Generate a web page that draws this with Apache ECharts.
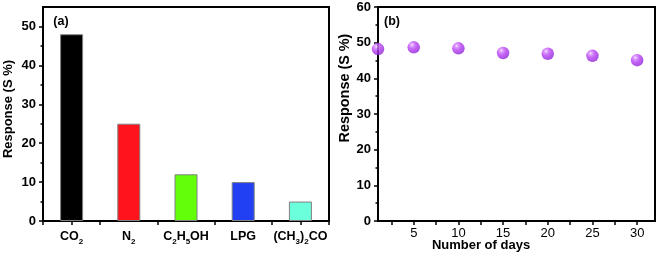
<!DOCTYPE html>
<html>
<head>
<meta charset="utf-8">
<script src="https://cdn.jsdelivr.net/npm/echarts@6/dist/echarts.min.js"></script>
<style>html,body{margin:0;padding:0;background:#fff}#c{width:661px;height:261px}</style>
</head>
<body>
<div id="c"></div>
<script>
// ---- data ----
var gasLabels = ['{n|CO}{s|2}', '{n|N}{s|2}', '{n|C}{s|2}{n|H}{s|5}{n|OH}', '{n|LPG}', '{n|(CH}{s|3}{n|)}{s|2}{n|CO}'];
var gasResponse = [48, 25, 12, 10, 5];
var gasColors = ['#000000', '#ff141e', '#62ff0a', '#2040f2', '#6cffdc'];
var days = [1, 5, 10, 15, 20, 25, 30];
var dayResponse = [48.2, 48.7, 48.4, 47.1, 46.9, 46.3, 45.1];
var yTicksA = [0, 10, 20, 30, 40, 50];
var yMinorA = [5, 15, 25, 35, 45];
var yTicksB = [0, 10, 20, 30, 40, 50, 60];
var yMinorB = [5, 15, 25, 35, 45, 55];
var xTicksB = [5, 10, 15, 20, 25, 30];
var xMinorB = [2.5, 7.5, 12.5, 17.5, 22.5, 27.5];

var FONT = 'Liberation Sans, Arial, sans-serif';
var lbl = {color: '#000', fontWeight: 'bold', fontSize: 13, fontFamily: FONT};
var line = {show: true, lineStyle: {color: '#000', width: 2}};
var tickStyle = {color: '#000', width: 1.5};

var chart = echarts.init(document.getElementById('c'));
chart.setOption({
  animation: false,
  grid: [
    {left: 43, right: 332, top: 7, bottom: 40, show: true, borderColor: '#000', borderWidth: 2, outerBoundsMode: 'none'},
    {left: 378, right: 6, top: 7, bottom: 40, show: true, borderColor: '#000', borderWidth: 2, outerBoundsMode: 'none'}
  ],
  xAxis: [
    {type: 'category', gridIndex: 0, position: 'bottom', data: gasLabels, axisLine: line,
     axisTick: {show: true, length: 4, lineStyle: tickStyle},
     axisLabel: Object.assign({}, lbl, {margin: 9, interval: 0,
       rich: {
         n: {fontSize: 12.5, fontWeight: 'bold', fontFamily: FONT, color: '#000', lineHeight: 14, verticalAlign: 'top'},
         s: {fontSize: 8, fontWeight: 'bold', fontFamily: FONT, color: '#000', lineHeight: 16, verticalAlign: 'bottom'}
       }})},
    {type: 'category', gridIndex: 0, position: 'bottom', data: gasLabels, axisLine: {show: false},
     axisTick: {show: true, alignWithLabel: true, length: 4, lineStyle: tickStyle},
     axisLabel: {show: false}},
    {type: 'value', gridIndex: 1, position: 'bottom', min: 1, max: 32, axisLine: line, splitLine: {show: false},
     axisTick: {show: true, length: 4, customValues: xTicksB.concat(xMinorB), lineStyle: tickStyle},
     axisLabel: Object.assign({}, lbl, {margin: 6, customValues: xTicksB, fontWeight: 'normal', fontSize: 13})}
  ],
  yAxis: [
    {type: 'value', gridIndex: 0, position: 'left', min: 0, max: 55, axisLine: line, splitLine: {show: false},
     axisTick: {show: true, length: 4, customValues: yTicksA, lineStyle: tickStyle},
     axisLabel: Object.assign({}, lbl, {margin: 7, customValues: yTicksA})},
    {type: 'value', gridIndex: 0, position: 'left', min: 0, max: 55, axisLine: {show: false}, splitLine: {show: false},
     axisTick: {show: true, length: 2.5, customValues: yMinorA, lineStyle: tickStyle},
     axisLabel: {show: false}},
    {type: 'value', gridIndex: 1, position: 'left', min: 0, max: 60, axisLine: line, splitLine: {show: false},
     axisTick: {show: true, length: 4, customValues: yTicksB, lineStyle: tickStyle},
     axisLabel: Object.assign({}, lbl, {margin: 7, customValues: yTicksB})},
    {type: 'value', gridIndex: 1, position: 'left', min: 0, max: 60, axisLine: {show: false}, splitLine: {show: false},
     axisTick: {show: true, length: 2.5, customValues: yMinorB, lineStyle: tickStyle},
     axisLabel: {show: false}}
  ],
  series: [
    {type: 'bar', xAxisIndex: 0, yAxisIndex: 0, barWidth: 23,
     data: gasResponse.map(function (v, i) {
       return {value: v, itemStyle: {color: gasColors[i], borderColor: '#808080', borderWidth: 1}};
     })},
    {type: 'scatter', xAxisIndex: 2, yAxisIndex: 2, symbolSize: 12.5,
     data: days.map(function (d, i) { return [d, dayResponse[i]]; }),
     itemStyle: {color: {type: 'radial', x: 0.36, y: 0.3, r: 0.75,
       colorStops: [{offset: 0, color: '#fbeeff'}, {offset: 0.15, color: '#d88cff'}, {offset: 0.45, color: '#b840f4'}, {offset: 1, color: '#8c20d6'}]}}}
  ],
  graphic: [
    {type: 'text', x: 8, y: 109, rotation: Math.PI / 2,
     style: {text: 'Response (S %)', font: 'bold 13px ' + FONT, fill: '#000', textAlign: 'center', textVerticalAlign: 'middle'}},
    {type: 'text', x: 345, y: 88, rotation: Math.PI / 2,
     style: {text: 'Response (S %)', font: 'bold 14.4px ' + FONT, fill: '#000', textAlign: 'center', textVerticalAlign: 'middle'}},
    {type: 'text', x: 481, y: 245,
     style: {text: 'Number of days', font: 'bold 13px ' + FONT, fill: '#000', textAlign: 'center', textVerticalAlign: 'middle'}},
    {type: 'text', x: 61, y: 22,
     style: {text: '(a)', font: 'bold 12.5px ' + FONT, fill: '#000', textAlign: 'center', textVerticalAlign: 'middle'}},
    {type: 'text', x: 392, y: 22,
     style: {text: '(b)', font: 'bold 12.5px ' + FONT, fill: '#000', textAlign: 'center', textVerticalAlign: 'middle'}}
  ]
});
</script>
</body>
</html>
